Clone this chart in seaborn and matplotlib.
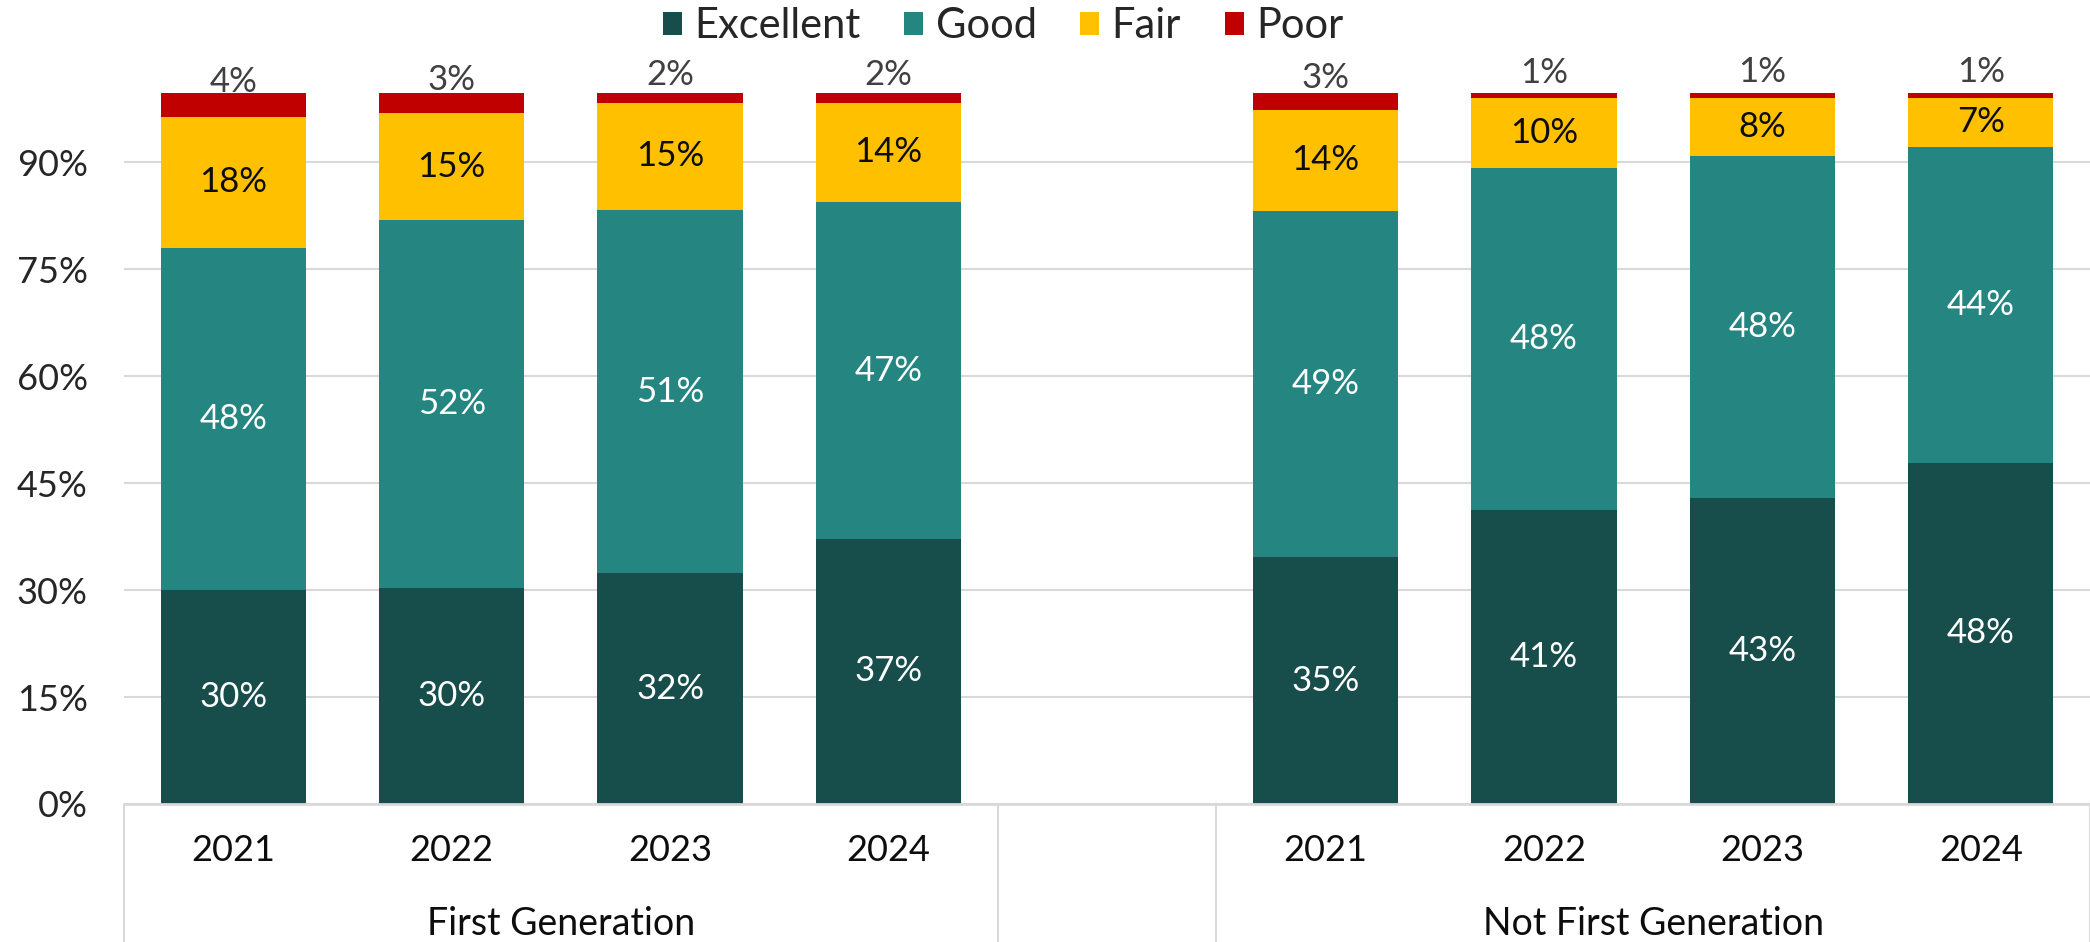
import pandas as pd
import numpy as np
import matplotlib
matplotlib.use('Agg')
import matplotlib.pyplot as plt
import matplotlib.transforms as mtransforms
from matplotlib.patches import Patch
import seaborn as sns

# Data (percent of respondents)
groups = ['First Generation', 'Not First Generation']
years = ['2021', '2022', '2023', '2024']
ratings = ['Excellent', 'Good', 'Fair', 'Poor']
colors = ['#174D4A', '#258580', '#FFC000', '#C00000']
label_colors = ['white', 'white', '#0D0D0D', '#404040']

first_excellent = [30.0, 30.3, 32.4, 37.2]
first_good = [48.0, 51.6, 50.9, 47.2]
first_fair = [18.4, 15.0, 15.1, 14.0]
first_poor = [3.6, 3.1, 1.6, 1.6]

not_first_excellent = [34.6, 41.2, 42.9, 47.9]
not_first_good = [48.6, 48.0, 48.0, 44.2]
not_first_fair = [14.2, 9.8, 8.2, 7.0]
not_first_poor = [2.6, 1.0, 0.9, 0.9]

sns.set_theme(style='white')
plt.rcParams['font.family'] = ['Lato', 'DejaVu Sans']

# build a long table, one row per group/year
rows = []
for g, vals in zip(groups, [(first_excellent, first_good, first_fair, first_poor),
                            (not_first_excellent, not_first_good, not_first_fair, not_first_poor)]):
    for i, y in enumerate(years):
        rec = {'group': g, 'year': y, 'slot': f'{g}|{y}'}
        for r, series in zip(ratings, vals):
            rec[r] = series[i] / 100
        rows.append(rec)
df = pd.DataFrame(rows)

# cumulative tops for the stacking
cum = df[ratings].cumsum(axis=1)
for r in ratings:
    df['top_' + r] = cum[r]

order = [f'{groups[0]}|{y}' for y in years] + ['gap'] + [f'{groups[1]}|{y}' for y in years]
pos = {k: i for i, k in enumerate(order)}

fig = plt.figure(figsize=(20.9, 9.42), dpi=100)
ax = fig.add_axes([0.0593, 0.1465, 0.9407, 0.7545])

# draw tallest first so the shorter cumulative bars sit on top
for r, c in reversed(list(zip(ratings, colors))):
    sns.barplot(data=df, x='slot', y='top_' + r, order=order, color=c,
                saturation=1, width=0.665, errorbar=None, ax=ax, zorder=3,
                linewidth=0, edgecolor='none')

# segment labels
for _, row in df.iterrows():
    x = pos[row['slot']]
    bottom = 0
    for r, lc in zip(ratings, label_colors):
        v = row[r]
        yc = bottom + v / 2
        txt = f'{round(v * 100):.0f}%'
        if r == 'Poor':
            ax.annotate(txt, (x, yc), xytext=(0, 22), textcoords='offset pixels',
                        ha='center', va='center', fontsize=25, color=lc, zorder=5)
        else:
            ax.text(x, yc, txt, ha='center', va='center', fontsize=25, color=lc, zorder=5)
        bottom += v

ax.set_xlim(-0.5, len(order) - 0.5)
ax.set_ylim(0, 0.997)
ticks = np.arange(0, 0.91, 0.15)
ax.set_yticks(ticks)
ax.set_yticklabels([f'{t * 100:.0f}%' for t in ticks], fontsize=26, color='#262626')
ax.yaxis.grid(True, color='#D9D9D9', linewidth=1.5, zorder=0)
ax.set_axisbelow(True)
ax.tick_params(axis='y', length=0, pad=26)
ax.set_xticks([])
ax.set_xlabel('')
ax.set_ylabel('')
for s in ['top', 'right', 'left']:
    ax.spines[s].set_visible(False)
ax.spines['bottom'].set_color('#D9D9D9')
ax.spines['bottom'].set_linewidth(2)
ax.spines['bottom'].set_zorder(4)

# two-level category axis
trans = mtransforms.blended_transform_factory(ax.transData, ax.transAxes)
for k, i in pos.items():
    if k == 'gap':
        continue
    ax.text(i, -0.066, k.split('|')[1], transform=trans, ha='center', va='center',
            fontsize=26, color='#0D0D0D')
ax.text(1.5, -0.169, groups[0], transform=trans, ha='center', va='center',
        fontsize=27, color='#0D0D0D')
ax.text(6.5, -0.169, groups[1], transform=trans, ha='center', va='center',
        fontsize=27, color='#0D0D0D')
for xs in [-0.5, 3.5, 4.5, 8.5]:
    ax.plot([xs, xs], [0, -0.2], transform=trans, color='#D9D9D9', linewidth=1.5,
            clip_on=False)

handles = [Patch(facecolor=c, edgecolor='none') for c in colors]
fig.legend(handles, ratings, loc='center', bbox_to_anchor=(0.48, 0.972), ncol=4,
           frameon=False, fontsize=30, handlelength=0.45, handleheight=0.45,
           handletextpad=0.3, columnspacing=1.05, borderaxespad=0)

fig.savefig('out.png', dpi=100)
